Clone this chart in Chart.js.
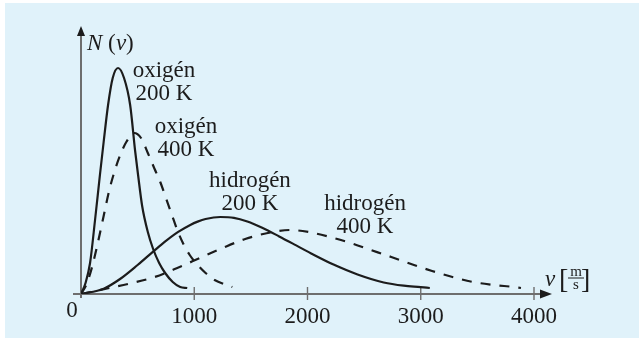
<!DOCTYPE html>
<html lang="hu">
<head>
<meta charset="UTF-8">
<title>Maxwell-eloszlás</title>
<script src="https://cdn.jsdelivr.net/npm/chart.js"></script>
<style>
  body { margin: 0; background: #fff; }
  canvas { display: block; }
</style>
</head>
<body>
<canvas id="grafikon" width="639" height="340"></canvas>
<script>
// sebesség (m/s) és N(v) értékek görbénként
const oxigen200V = [0, 40, 80, 124, 168, 200, 239, 280, 327, 380, 434, 478, 504, 540, 590, 637, 690, 743, 810, 876, 938];
const oxigen200N = [0, 11, 31, 74, 120, 152, 189, 216, 226, 216, 189, 143, 119, 88, 62, 45, 31, 21, 12, 7, 6];

const oxigen400V = [0, 50, 100, 150, 200, 250, 300, 350, 400, 469, 530, 590, 650, 700, 750, 800, 850, 900, 960, 1030, 1100, 1180, 1260, 1336];
const oxigen400N = [0, 10, 28, 52, 78, 104, 124, 140, 152, 161, 156, 141, 125, 112, 96, 80, 64, 51, 39, 29, 21, 14, 10, 7];

const hidrogen200V = [0, 200, 345, 500, 637, 750, 858, 965, 1030, 1100, 1230, 1350, 1469, 1600, 1750, 1900, 2050, 2230, 2442, 2673, 2850, 3000, 3080];
const hidrogen200N = [0, 5.3, 15, 29, 42.4, 53.1, 62.1, 69.1, 72.4, 75, 77, 76.2, 72.5, 66.2, 57.6, 48.6, 39.5, 29.4, 19.5, 11.5, 8.3, 6.9, 6];

const hidrogen400V = [0, 250, 450, 650, 850, 1050, 1250, 1450, 1650, 1850, 2009, 2200, 2380, 2560, 2740, 2940, 3100, 3280, 3460, 3650, 3823, 3885];
const hidrogen400N = [0, 6, 11, 17, 26, 36, 46, 55, 61, 64, 62, 57, 51, 44, 37, 29, 23, 17, 12, 9, 7, 6];

const xTicks = [1000, 2000, 3000, 4000];
const gorbeFeliratok = [['oxigén', '200 K'], ['oxigén', '400 K'], ['hidrogén', '200 K'], ['hidrogén', '400 K']];

function pontok(v, n) {
  return v.map((x, i) => ({ x: x, y: n[i] }));
}

const serif = '"Liberation Serif", "DejaVu Serif", serif';
const tengelySzin = '#6e6e6e';
const vonalSzin = '#1c1c1c';

// felirat helyek adat-koordinátában (v, N az első sor alapvonalánál)
const feliratHelyek = [
  { v: 733, n: 217 },
  { v: 927, n: 161 },
  { v: 1492, n: 107 },
  { v: 2508, n: 84 }
];

const hatterPlugin = {
  id: 'hatter',
  beforeDraw(chart) {
    const ctx = chart.ctx;
    ctx.save();
    ctx.fillStyle = '#ffffff';
    ctx.fillRect(0, 0, chart.width, chart.height);
    ctx.fillStyle = '#e0f2fa';
    ctx.fillRect(5, 3, 634, 335);
    ctx.restore();
  }
};

const tengelyPlugin = {
  id: 'tengelyek',
  beforeDatasetsDraw(chart) {
    const ctx = chart.ctx;
    const xs = chart.scales.x, ys = chart.scales.y;
    const x0 = xs.getPixelForValue(0), y0 = ys.getPixelForValue(0);
    const yTop = ys.getPixelForValue(ys.max);
    ctx.save();
    ctx.strokeStyle = tengelySzin;
    ctx.lineWidth = 2;
    ctx.beginPath();
    ctx.moveTo(x0 - 8, y0);
    ctx.lineTo(xs.getPixelForValue(4000) + 12, y0);
    ctx.moveTo(x0, y0 + 4);
    ctx.lineTo(x0, yTop + 6);
    ctx.stroke();

    // osztásjelek
    ctx.lineWidth = 1.4;
    ctx.beginPath();
    xTicks.forEach(t => {
      const px = xs.getPixelForValue(t);
      ctx.moveTo(px, y0 - 7);
      ctx.lineTo(px, y0 + 6);
    });
    ctx.stroke();

    // nyilak
    ctx.fillStyle = '#1c1c1c';
    const xEnd = xs.getPixelForValue(4000) + 18;
    ctx.beginPath();
    ctx.moveTo(xEnd, y0);
    ctx.lineTo(xEnd - 12, y0 - 4.5);
    ctx.lineTo(xEnd - 12, y0 + 4.5);
    ctx.closePath();
    ctx.fill();
    ctx.beginPath();
    ctx.moveTo(x0, yTop);
    ctx.lineTo(x0 - 4, yTop + 10);
    ctx.lineTo(x0 + 4, yTop + 10);
    ctx.closePath();
    ctx.fill();

    // tengelyfeliratok
    ctx.fillStyle = '#1c1c1c';
    ctx.textBaseline = 'alphabetic';
    ctx.font = '23px ' + serif;
    ctx.textAlign = 'center';
    xTicks.forEach(t => ctx.fillText(String(t), xs.getPixelForValue(t), y0 + 29));
    ctx.fillText('0', x0 - 9, y0 + 23);

    ctx.textAlign = 'left';
    ctx.font = 'italic 23px ' + serif;
    ctx.fillText('N', x0 + 6, yTop + 24);
    ctx.font = '23px ' + serif;
    ctx.fillText('(', x0 + 27, yTop + 24);
    ctx.font = 'italic 23px ' + serif;
    ctx.fillText('v', x0 + 35, yTop + 24);
    ctx.font = '23px ' + serif;
    ctx.fillText(')', x0 + 45, yTop + 24);

    // v [m/s]
    const ux = xEnd - 7;
    ctx.font = 'italic 23px ' + serif;
    ctx.fillText('v', ux, y0 - 8);
    ctx.font = '28px ' + serif;
    ctx.fillText('[', ux + 14, y0 - 6);
    ctx.fillText(']', ux + 36, y0 - 6);
    ctx.font = '15px ' + serif;
    ctx.textAlign = 'center';
    ctx.fillText('m', ux + 31, y0 - 18);
    ctx.fillText('s', ux + 31, y0 - 5);
    ctx.lineWidth = 1;
    ctx.strokeStyle = '#1c1c1c';
    ctx.beginPath();
    ctx.moveTo(ux + 23, y0 - 16);
    ctx.lineTo(ux + 39, y0 - 16);
    ctx.stroke();
    ctx.restore();
  },
  afterDatasetsDraw(chart) {
    const ctx = chart.ctx;
    const xs = chart.scales.x, ys = chart.scales.y;
    ctx.save();
    ctx.fillStyle = '#1c1c1c';
    ctx.font = '23px ' + serif;
    ctx.textAlign = 'center';
    gorbeFeliratok.forEach((sorok, i) => {
      const h = feliratHelyek[i];
      const px = xs.getPixelForValue(h.v), py = ys.getPixelForValue(h.n);
      sorok.forEach((s, k) => ctx.fillText(s, px, py + k * 23));
    });
    ctx.restore();
  }
};

function gorbe(v, n, szaggatott) {
  return {
    data: pontok(v, n),
    borderColor: vonalSzin,
    borderWidth: 2.2,
    borderDash: szaggatott ? [10, 9] : [],
    pointRadius: 0,
    fill: false,
    cubicInterpolationMode: 'monotone'
  };
}

new Chart(document.getElementById('grafikon'), {
  type: 'line',
  data: {
    datasets: [
      gorbe(oxigen200V, oxigen200N, false),
      gorbe(oxigen400V, oxigen400N, true),
      gorbe(hidrogen200V, hidrogen200N, false),
      gorbe(hidrogen400V, hidrogen400N, true)
    ]
  },
  options: {
    responsive: false,
    animation: false,
    layout: { padding: { left: 81, right: 105, top: 26, bottom: 46 } },
    scales: {
      x: { type: 'linear', min: 0, max: 4000, display: false },
      y: { type: 'linear', min: 0, max: 268, display: false }
    },
    plugins: { legend: { display: false }, tooltip: { enabled: false } }
  },
  plugins: [hatterPlugin, tengelyPlugin]
});
</script>
</body>
</html>
